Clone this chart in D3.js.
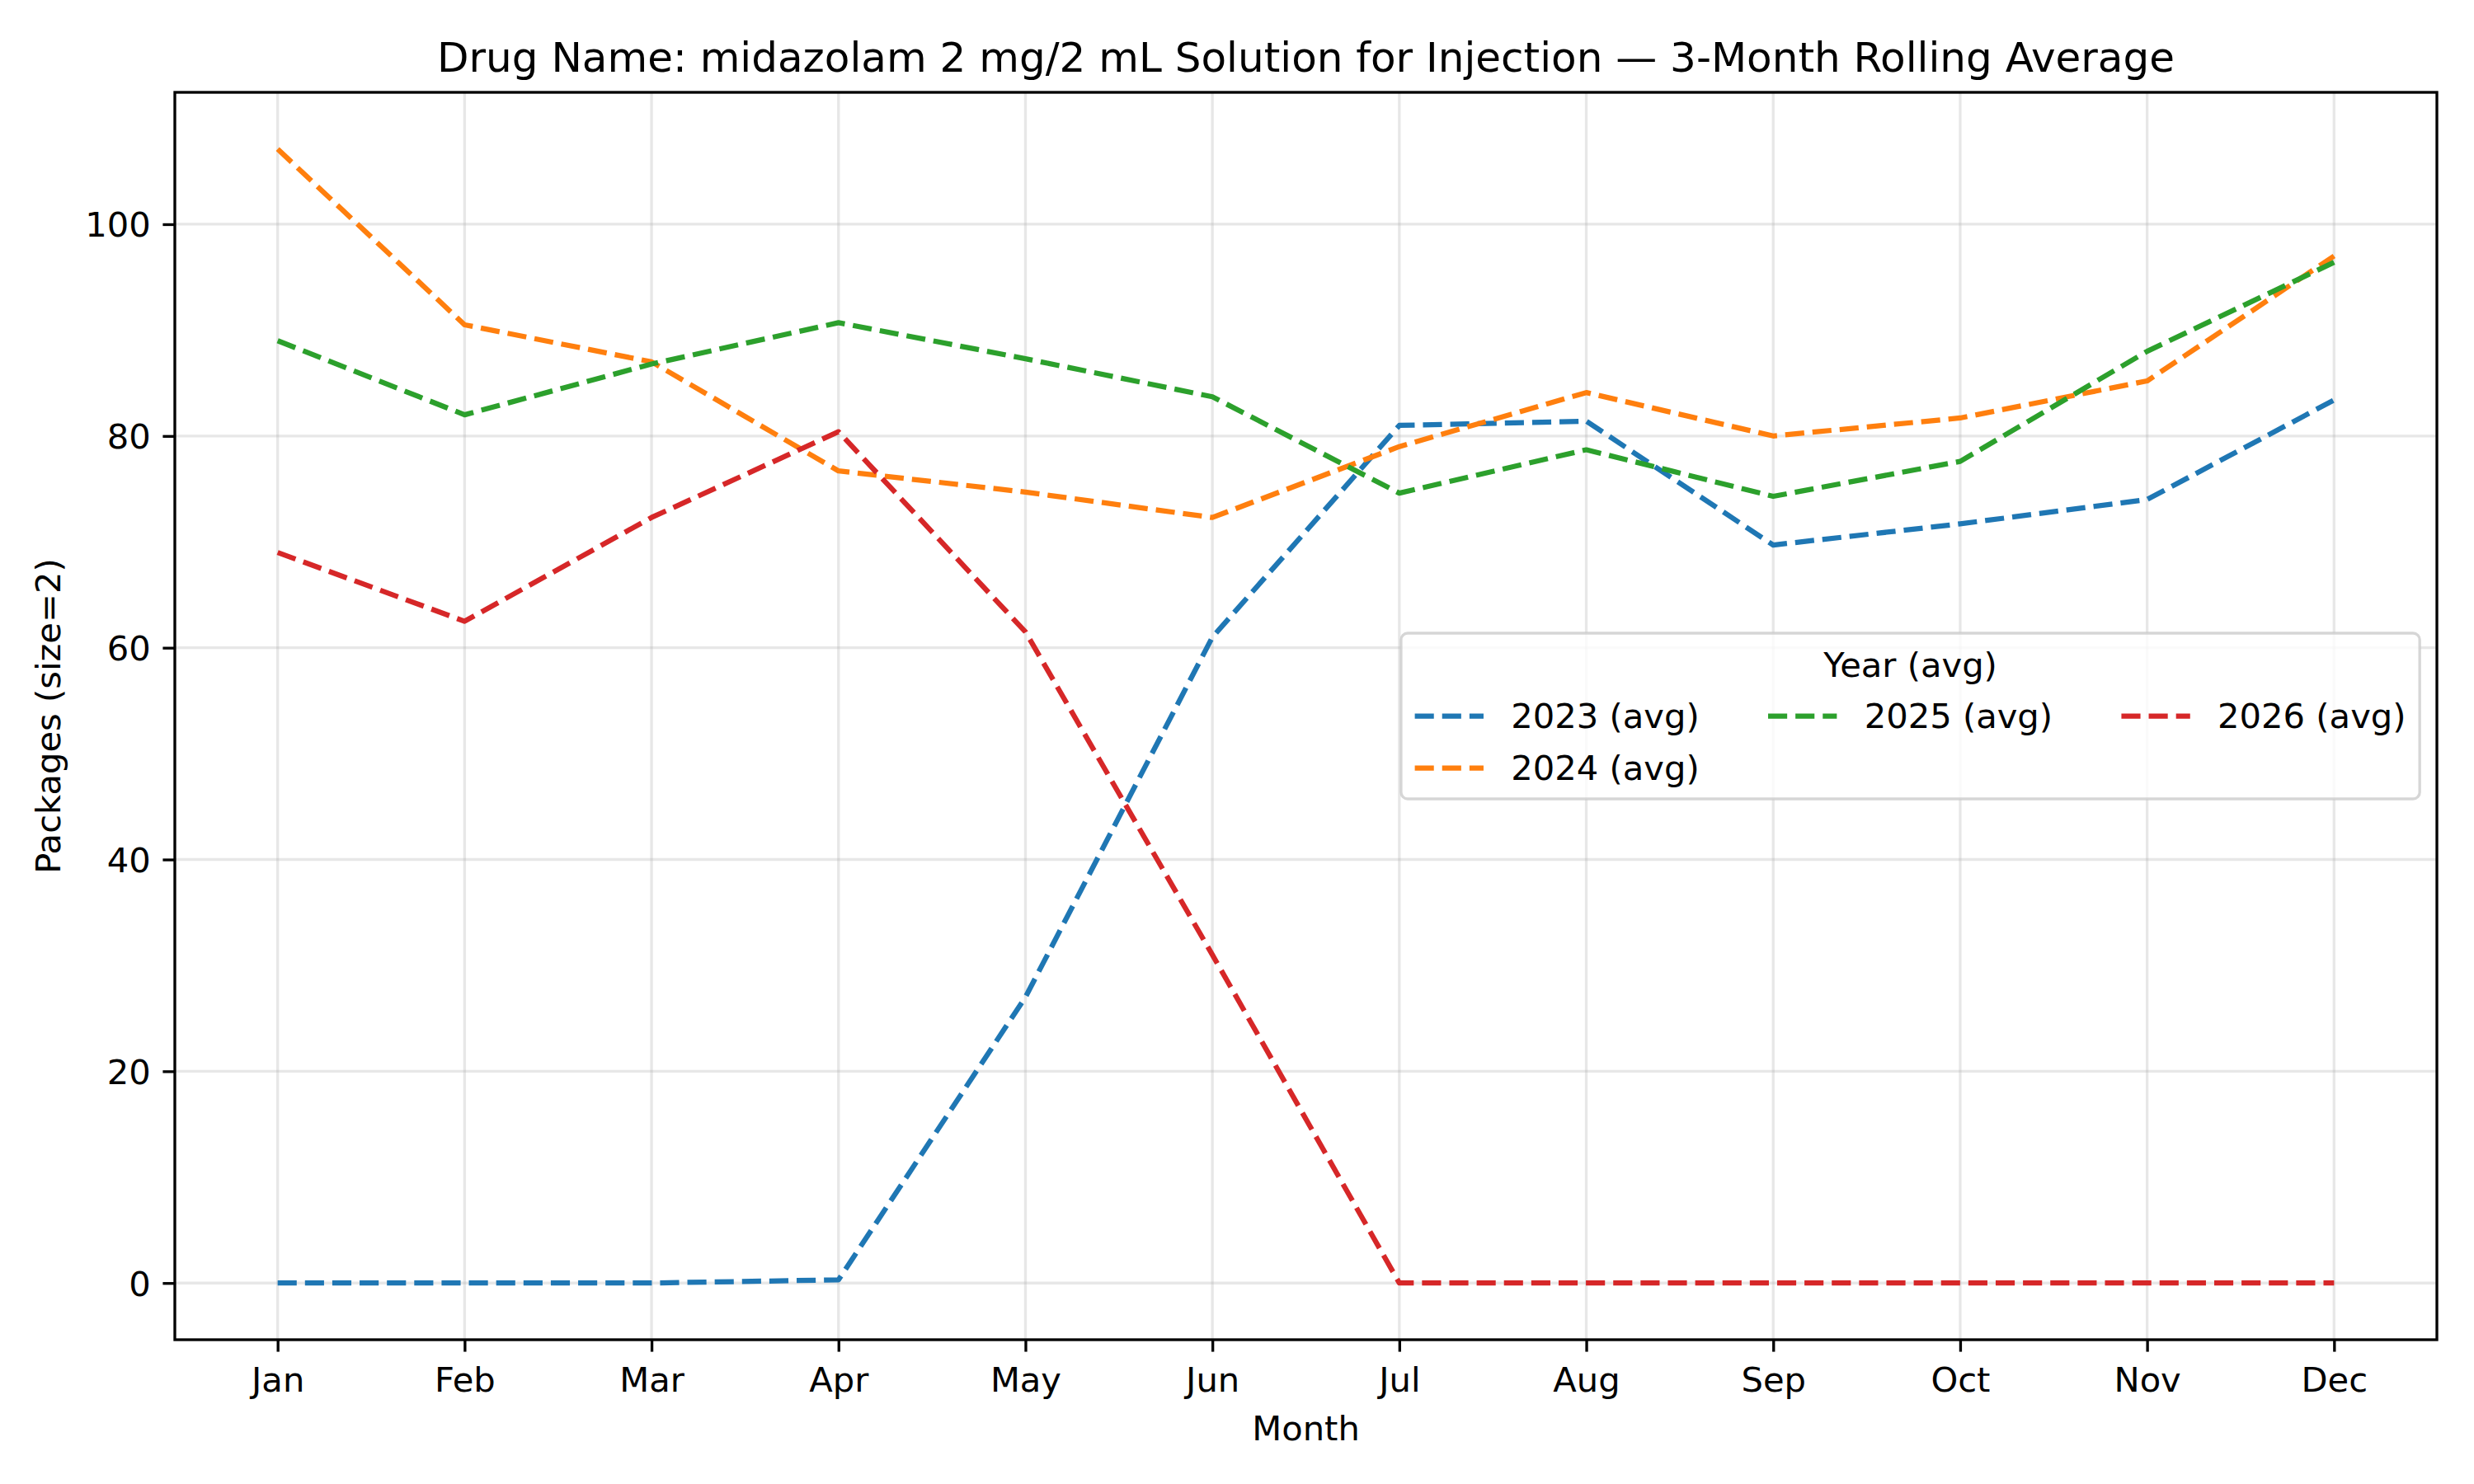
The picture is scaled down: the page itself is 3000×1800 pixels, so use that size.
<!DOCTYPE html>
<html>
<head>
<meta charset="utf-8">
<script src="https://cdn.jsdelivr.net/npm/d3@7/dist/d3.min.js"></script>
<style>
  body { margin: 0; background: #fff; }
  text { font-family: "DejaVu Sans", sans-serif; fill: #000; }
</style>
</head>
<body>
<div id="chart"></div>
<script>
var width = 3000;
var height = 1800;
var margin = { left: 212, right: 45, top: 112, bottom: 175 };

var FONT = 41.67;      // 10pt at 300 dpi
var FONT_TITLE = 50;   // 12pt
var PT = 300 / 72;

// data
var months = ['Jan', 'Feb', 'Mar', 'Apr', 'May', 'Jun', 'Jul', 'Aug', 'Sep', 'Oct', 'Nov', 'Dec'];
var years = ['2023 (avg)', '2024 (avg)', '2025 (avg)', '2026 (avg)'];
var yTicks = [0, 20, 40, 60, 80, 100];

var avg2023 = [0, 0, 0, 0.3, 27, 61, 81, 81.4, 69.7, 71.7, 74, 83.4];
var avg2024 = [107.1, 90.5, 87, 76.7, 74.7, 72.3, 79, 84.1, 80, 81.7, 85.2, 97];
var avg2025 = [89, 82, 86.8, 90.7, 87.3, 83.7, 74.6, 78.7, 74.3, 77.6, 88, 96.4];
var avg2026 = [69, 62.5, 72.3, 80.4, 61.5, 31, 0, 0, 0, 0, 0, 0];

var series = [avg2023, avg2024, avg2025, avg2026];
var colors = ['#1f77b4', '#ff7f0e', '#2ca02c', '#d62728'];

var svg = d3.select('#chart')
    .append('svg')
    .attr('width', width)
    .attr('height', height)

var plotW = width - margin.left - margin.right;
var plotH = height - margin.top - margin.bottom;

// matplotlib style 5% margins
var x = d3.scaleLinear()
    .domain([-0.55, months.length - 1 + 0.55])
    .range([margin.left, margin.left + plotW]);

var allVals = d3.merge(series);
var yMin = d3.min(allVals), yMax = d3.max(allVals);
var pad = (yMax - yMin) * 0.05;
var y = d3.scaleLinear()
    .domain([yMin - pad, yMax + pad])
    .range([margin.top + plotH, margin.top]);

// grid
var grid = svg.append('g');
grid.selectAll('.vgrid')
    .data(months)
    .enter().append('line')
    .attr('x1', function (d, i) { return x(i); })
    .attr('x2', function (d, i) { return x(i); })
    .attr('y1', margin.top)
    .attr('y2', margin.top + plotH)
    .attr('stroke', '#b0b0b0')
    .attr('stroke-opacity', 0.3)
    .attr('stroke-width', 0.8 * PT);
grid.selectAll('.hgrid')
    .data(yTicks)
    .enter().append('line')
    .attr('x1', margin.left)
    .attr('x2', margin.left + plotW)
    .attr('y1', function (d) { return y(d); })
    .attr('y2', function (d) { return y(d); })
    .attr('stroke', '#b0b0b0')
    .attr('stroke-opacity', 0.3)
    .attr('stroke-width', 0.8 * PT);

// lines
var line = d3.line()
    .x(function (d, i) { return x(i); })
    .y(function (d) { return y(d); });

series.forEach(function (s, k) {
    svg.append('path')
        .datum(s)
        .attr('fill', 'none')
        .attr('stroke', colors[k])
        .attr('stroke-width', 1.5 * PT)
        .attr('stroke-dasharray', (3.7 * 1.5 * PT) + ',' + (1.6 * 1.5 * PT))
        .attr('stroke-linejoin', 'round')
        .attr('d', line);
});

// axes
var xAxis = d3.axisBottom(x)
    .tickValues(d3.range(months.length))
    .tickFormat(function (i) { return months[i]; })
    .tickSize(3.5 * PT)
    .tickPadding(3.5 * PT);
var gx = svg.append('g')
    .attr('transform', 'translate(0,' + (margin.top + plotH) + ')')
    .call(xAxis);

var yAxis = d3.axisLeft(y)
    .tickValues(yTicks)
    .tickSize(3.5 * PT)
    .tickPadding(3.5 * PT);
var gy = svg.append('g')
    .attr('transform', 'translate(' + margin.left + ',0)')
    .call(yAxis);

[gx, gy].forEach(function (g) {
    g.select('.domain').remove();
    g.selectAll('.tick line').attr('stroke', '#000').attr('stroke-width', 0.8 * PT);
    g.selectAll('.tick text')
        .style('font-size', FONT + 'px')
        .style('font-family', '"DejaVu Sans", sans-serif')
        .attr('fill', '#000');
});
gx.selectAll('.tick text').attr('y', 63).attr('dy', null);
gy.selectAll('.tick text').attr('dy', '0.36em');

// spines
svg.append('rect')
    .attr('x', margin.left)
    .attr('y', margin.top)
    .attr('width', plotW)
    .attr('height', plotH)
    .attr('fill', 'none')
    .attr('stroke', '#000')
    .attr('stroke-width', 0.8 * PT);

// title and labels
var cx = margin.left + plotW / 2;
svg.append('text')
    .text('Drug Name: midazolam 2 mg/2 mL Solution for Injection \u2014 3-Month Rolling Average')
    .attr('x', cx)
    .attr('y', margin.top - 6 * PT)
    .attr('text-anchor', 'middle')
    .style('font-size', FONT_TITLE + 'px');

svg.append('text')
    .text('Month')
    .attr('x', cx)
    .attr('y', 1747)
    .attr('text-anchor', 'middle')
    .style('font-size', FONT + 'px');

svg.append('text')
    .text('Packages (size=2)')
    .attr('transform', 'translate(73,' + (margin.top + plotH / 2) + ') rotate(-90)')
    .attr('text-anchor', 'middle')
    .style('font-size', FONT + 'px');

// legend: center right, 3 columns
var em = FONT;
var handleLen = 2.0 * em, handlePad = 0.8 * em, colSpace = 2.0 * em, borderPad = 0.4 * em;
var ncol = 3;
var cols = [[0, 1], [2], [3]];

var legend = svg.append('g');
var measure = svg.append('text').style('font-size', FONT + 'px');
var textW = years.map(function (t) {
    measure.text(t);
    return measure.node().getComputedTextLength();
});
measure.remove();

var colW = cols.map(function (c) {
    return handleLen + handlePad + d3.max(c, function (k) { return textW[k]; });
});
var boxW = 2 * borderPad + d3.sum(colW) + colSpace * (ncol - 1);
var boxH = 201;
var boxRight = margin.left + plotW - 0.5 * em;
var boxLeft = boxRight - boxW;
var boxCy = margin.top + plotH / 2;
var boxTop = boxCy - boxH / 2;

legend.append('rect')
    .attr('x', boxLeft)
    .attr('y', boxTop)
    .attr('width', boxW)
    .attr('height', boxH)
    .attr('rx', 8)
    .attr('fill', '#fff')
    .attr('fill-opacity', 0.8)
    .attr('stroke', '#cccccc')
    .attr('stroke-opacity', 0.8)
    .attr('stroke-width', 0.8 * PT);

legend.append('text')
    .text('Year (avg)')
    .attr('x', boxLeft + boxW / 2)
    .attr('y', boxTop + 38)
    .attr('dy', '0.35em')
    .attr('text-anchor', 'middle')
    .style('font-size', FONT + 'px');

var rowY = [boxCy, boxCy + 63];
var colX = boxLeft + borderPad;
cols.forEach(function (c, ci) {
    c.forEach(function (k, ri) {
        legend.append('line')
            .attr('x1', colX)
            .attr('x2', colX + handleLen)
            .attr('y1', rowY[ri])
            .attr('y2', rowY[ri])
            .attr('stroke', colors[k])
            .attr('stroke-width', 1.5 * PT)
            .attr('stroke-dasharray', (3.7 * 1.5 * PT) + ',' + (1.6 * 1.5 * PT));
        legend.append('text')
            .text(years[k])
            .attr('x', colX + handleLen + handlePad)
            .attr('y', rowY[ri])
            .attr('dy', '0.35em')
            .style('font-size', FONT + 'px');
    });
    colX += colW[ci] + colSpace;
});
</script>
</body>
</html>
